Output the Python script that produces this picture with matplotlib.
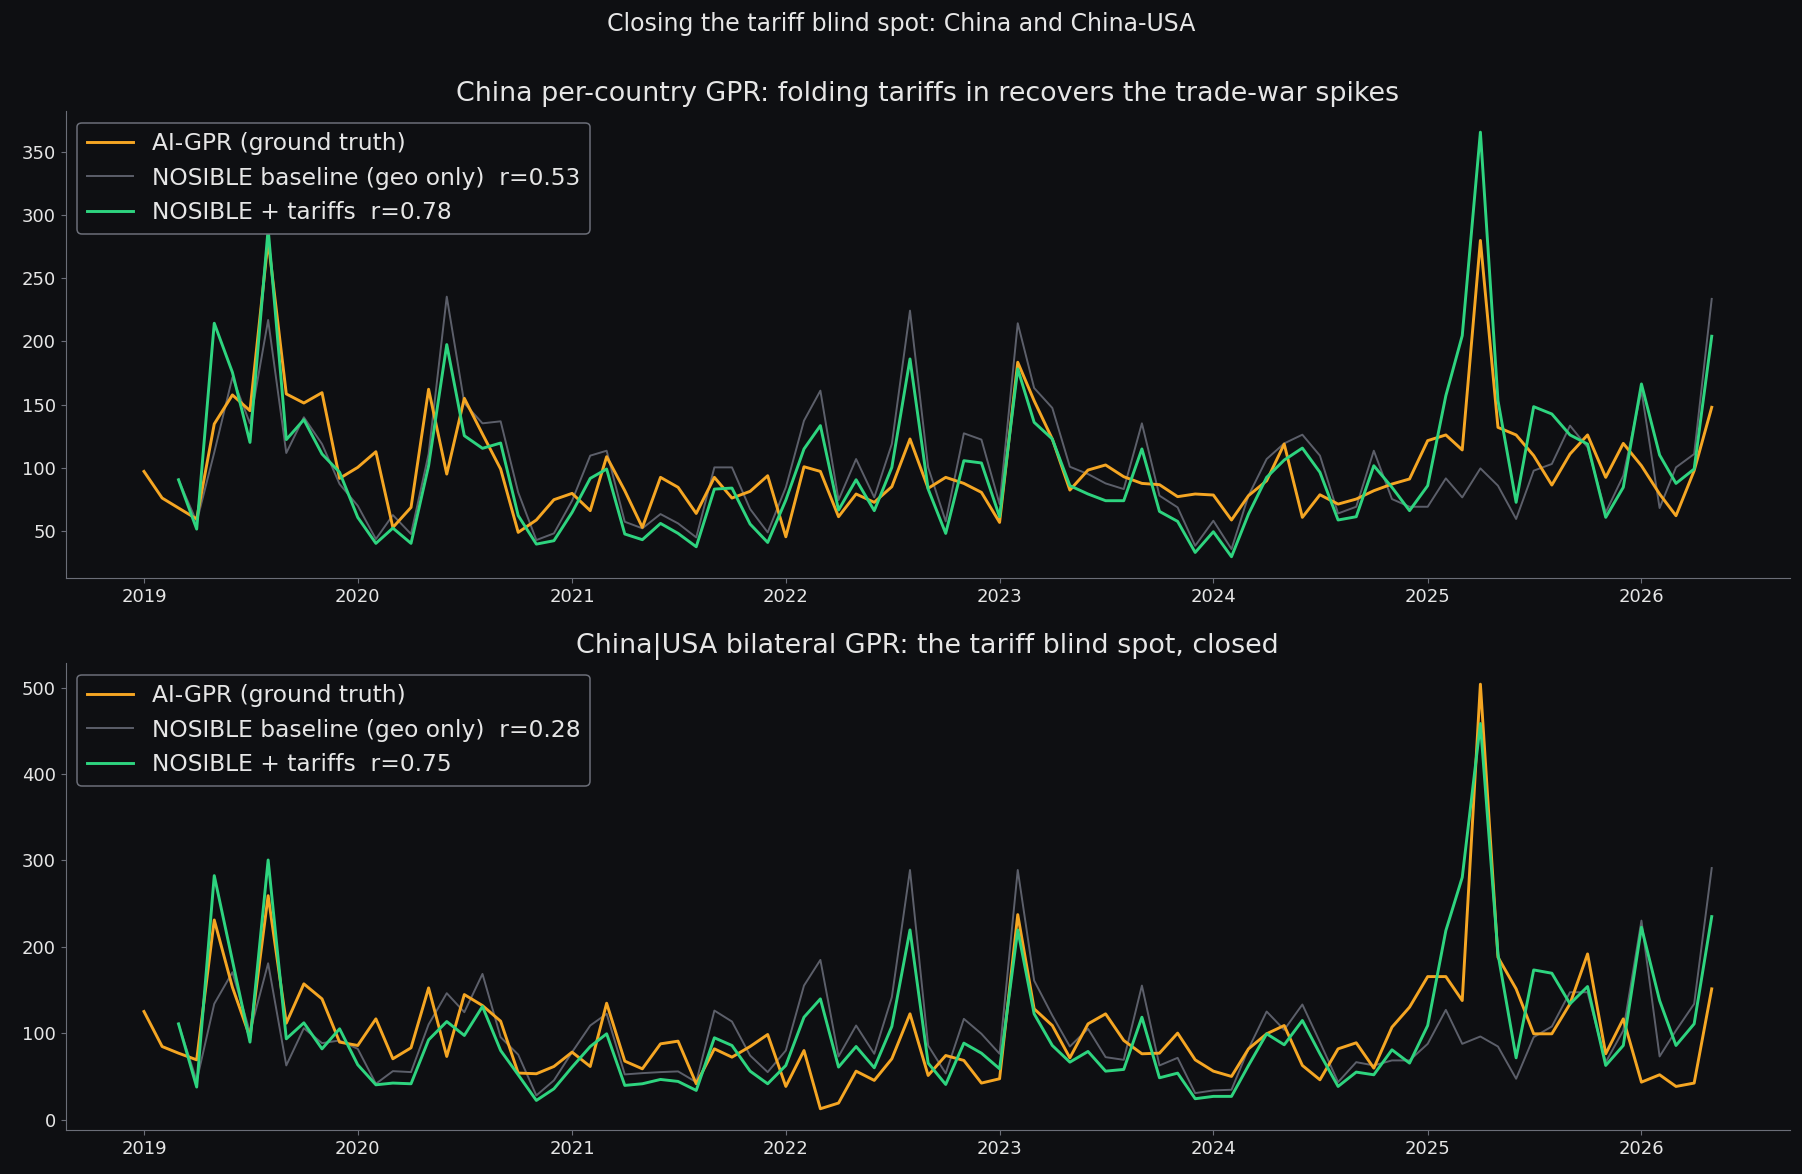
import numpy as np
import pandas as pd
import matplotlib
matplotlib.use("Agg")
import matplotlib.pyplot as plt

# ---------------- data ----------------
dates = pd.date_range("2019-01-01", "2026-05-01", freq="MS")
dates_n = pd.date_range("2019-03-01", "2026-05-01", freq="MS")

china_ai = [97.0, 75.9, 68.0, 59.3, 134.6, 157.6, 145.1, 280.0, 158.4, 151.2, 159.4, 91.5,
            100.2, 112.6, 52.6, 68.5, 162.1, 94.9, 154.9, 126.6, 98.9, 48.7, 58.5, 74.6,
            79.6, 65.9, 108.7, 81.7, 52.6, 92.3, 84.4, 63.7, 92.3, 75.9, 81.2, 93.6,
            45.2, 100.7, 97.0, 61.1, 79.1, 72.5, 84.9, 122.7, 83.6, 92.3, 87.5, 80.4,
            56.6, 183.5, 153.0, 122.7, 82.2, 98.1, 102.1, 92.8, 87.5, 86.5, 77.0, 79.1,
            78.3, 58.5, 77.8, 89.6, 118.7, 60.6, 78.5, 71.1, 75.1, 81.7, 87.0, 91.0,
            121.4, 125.9, 114.0, 280.0, 131.9, 125.9, 109.5, 86.2, 110.8, 125.9, 92.3, 119.2,
            101.5, 79.1, 61.9, 97.6, 147.8]
china_base = [90.4, 57.0, 112.0, 171.6, 135.0, 217.0, 111.6, 139.9, 118.7, 87.0,
              69.8, 43.4, 62.4, 47.4, 110.8, 235.5, 151.0, 135.1, 136.7, 80.4, 42.6, 47.9,
              73.8, 109.5, 113.4, 57.1, 51.9, 63.2, 55.8, 44.7, 100.2, 100.2, 67.2, 48.7,
              84.4, 137.2, 161.0, 74.3, 106.8, 76.4, 118.7, 224.4, 100.2, 57.4, 127.2, 122.2,
              71.1, 214.4, 163.1, 147.3, 100.7, 94.9, 87.5, 83.0, 135.1, 77.8, 68.5, 38.1,
              57.9, 35.5, 77.8, 106.8, 119.2, 126.1, 109.5, 63.7, 69.0, 113.4, 75.1, 69.0,
              69.0, 91.5, 76.4, 99.4, 85.7, 59.3, 97.6, 102.9, 133.3, 116.1, 64.5, 93.6,
              161.0, 68.0, 100.2, 110.8, 233.7]
china_tariff = [90.4, 51.3, 214.4, 175.5, 120.0, 289.2, 122.2, 138.0, 110.8, 96.3,
                60.6, 40.0, 52.1, 40.0, 101.5, 197.5, 125.3, 115.3, 119.5, 62.0, 39.4, 42.1,
                64.5, 91.5, 98.9, 47.4, 42.9, 55.8, 47.9, 37.3, 83.0, 83.8, 55.3, 40.7,
                74.3, 114.8, 133.3, 66.4, 90.4, 65.9, 100.2, 186.1, 83.0, 47.9, 105.5, 103.7,
                61.1, 178.2, 135.9, 122.7, 85.7, 79.1, 73.8, 73.8, 114.8, 65.3, 57.4, 32.8,
                49.2, 29.4, 63.2, 92.3, 106.0, 115.5, 96.3, 58.5, 61.1, 101.5, 84.4, 65.9,
                85.7, 157.0, 204.6, 365.8, 153.1, 72.5, 148.3, 142.5, 125.9, 118.7, 60.6, 84.4,
                166.3, 110.0, 87.5, 98.9, 204.1]

usa_ai = [125.2, 84.7, 77.0, 69.3, 231.1, 153.3, 95.5, 259.2, 111.7, 157.2, 139.8, 89.8,
          85.9, 116.7, 70.5, 83.2, 152.5, 73.2, 144.8, 132.1, 114.0, 54.0, 53.2, 61.6,
          78.2, 61.6, 134.8, 67.8, 58.9, 87.8, 90.9, 41.6, 82.0, 72.4, 84.7, 98.6,
          38.5, 80.1, 12.7, 19.3, 56.2, 45.5, 70.5, 122.5, 51.2, 74.3, 68.6, 42.4,
          47.4, 237.3, 128.3, 109.0, 71.6, 110.9, 122.5, 91.7, 76.3, 77.0, 100.2, 69.3,
          56.2, 50.1, 82.0, 99.4, 109.0, 62.8, 46.2, 82.0, 89.0, 59.7, 107.1, 130.2,
          165.6, 165.6, 137.9, 503.9, 188.0, 151.4, 99.4, 99.4, 134.1, 191.8, 76.3, 116.7,
          43.5, 52.0, 38.5, 42.4, 151.4]
usa_base = [110.9, 45.0, 134.1, 170.6, 101.3, 181.0, 62.8, 105.9, 88.6, 91.7,
            82.0, 41.6, 56.2, 55.1, 110.2, 146.4, 124.4, 168.7, 95.5, 75.3, 28.1, 45.5,
            78.2, 109.0, 122.5, 52.4, 53.9, 55.1, 55.9, 43.5, 126.3, 113.6, 74.3, 55.1,
            80.1, 155.2, 184.9, 73.2, 109.0, 76.3, 141.8, 288.9, 85.9, 53.6, 116.7, 99.4,
            76.3, 288.9, 161.0, 120.6, 84.7, 105.2, 72.4, 69.3, 155.2, 62.8, 71.6, 30.8,
            33.9, 34.7, 82.0, 125.2, 104.0, 133.3, 89.8, 43.5, 66.6, 62.8, 68.6, 68.6,
            87.8, 127.1, 87.8, 96.3, 84.7, 47.4, 95.5, 107.9, 147.5, 147.5, 66.6, 103.2,
            230.4, 73.2, 103.2, 134.1, 291.2]
usa_tariff = [110.9, 37.8, 282.4, 184.1, 89.8, 300.5, 93.6, 112.1, 82.0, 105.2,
              63.6, 40.4, 42.4, 41.6, 92.4, 113.6, 97.5, 131.0, 80.1, 52.0, 22.3, 35.8,
              60.9, 84.7, 99.4, 39.7, 41.6, 46.6, 44.3, 33.9, 94.8, 85.9, 56.2, 41.6,
              62.8, 118.6, 139.8, 60.9, 84.7, 60.1, 107.9, 219.6, 65.5, 40.8, 88.6, 77.0,
              58.9, 219.6, 122.5, 85.9, 66.6, 79.0, 56.2, 58.2, 118.6, 48.5, 53.9, 24.3,
              27.0, 27.0, 62.8, 99.4, 86.7, 114.8, 76.3, 38.5, 55.1, 52.0, 80.9, 65.5,
              109.0, 218.8, 280.4, 458.4, 191.8, 71.6, 173.3, 169.5, 134.1, 154.1, 62.8, 85.9,
              222.7, 137.9, 85.9, 110.9, 235.0]

titles = ["China per-country GPR: folding tariffs in recovers the trade-war spikes",
          "China|USA bilateral GPR: the tariff blind spot, closed"]
r_base = ["0.53", "0.28"]
r_tariff = ["0.78", "0.75"]
suptitle = "Closing the tariff blind spot: China and China-USA"

# ---------------- style ----------------
BG = "#0e0f12"
TXT = "#e6e6e6"
SPINE = "#6b6e78"
C_AI = "#f5a623"
C_BASE = "#5c5f6a"
C_TAR = "#2ed47f"

plt.rcParams["font.family"] = ["DejaVu Sans"]
fig = plt.figure(figsize=(18.02, 11.74), dpi=100, facecolor=BG)
ax1 = fig.add_axes([0.0364, 0.5077, 0.9570, 0.3978])
ax2 = fig.add_axes([0.0364, 0.0375, 0.9570, 0.3978])

series = [(china_ai, china_base, china_tariff), (usa_ai, usa_base, usa_tariff)]
for i, ax in enumerate([ax1, ax2]):
    ai, base, tar = series[i]
    ax.set_facecolor(BG)
    ax.plot(dates, ai, color=C_AI, lw=2.1, label="AI-GPR (ground truth)", zorder=3)
    ax.plot(dates_n, base, color=C_BASE, lw=1.4,
            label=f"NOSIBLE baseline (geo only)  r={r_base[i]}", zorder=2)
    ax.plot(dates_n, tar, color=C_TAR, lw=2.1,
            label=f"NOSIBLE + tariffs  r={r_tariff[i]}", zorder=4)
    ax.set_title(titles[i], color=TXT, fontsize=19.4, pad=7)
    for s in ["top", "right"]:
        ax.spines[s].set_visible(False)
    for s in ["left", "bottom"]:
        ax.spines[s].set_color(SPINE)
    ax.tick_params(colors=SPINE, labelcolor=TXT, labelsize=13)
    leg = ax.legend(loc="upper left", fontsize=16.8, facecolor=BG, edgecolor=SPINE,
                    labelcolor=TXT, framealpha=1.0)
    leg.get_frame().set_linewidth(1.1)

fig.suptitle(suptitle, color=TXT, fontsize=17, y=0.99)
fig.savefig("out.png", dpi=100, facecolor=BG)
